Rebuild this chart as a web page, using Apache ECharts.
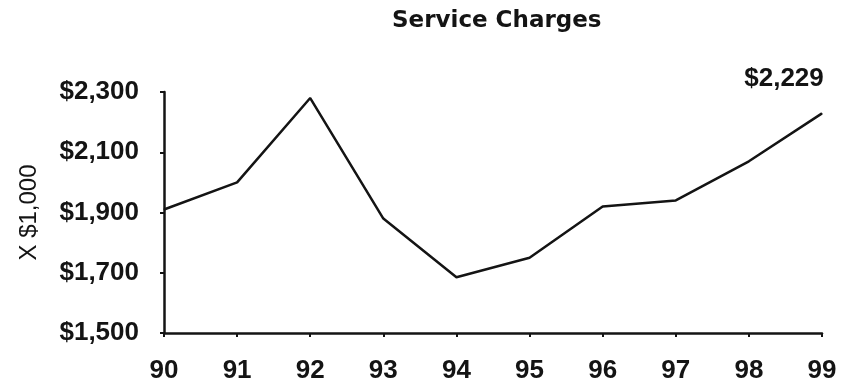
<!DOCTYPE html>
<html>
<head>
<meta charset="utf-8">
<script src="https://cdn.jsdelivr.net/npm/echarts@6/dist/echarts.min.js"></script>
<style>
  html, body { margin: 0; padding: 0; background: #ffffff; }
  #chart { width: 841px; height: 381px; }
</style>
</head>
<body>
<div id="chart"></div>
<script>
// Fiscal years shown on the category axis
const years = ['90', '91', '92', '93', '94', '95', '96', '97', '98', '99'];
// Service charges in thousands of dollars
const charges = [1910, 2000, 2280, 1880, 1685, 1750, 1920, 1940, 2070, 2229];
// Value axis range and step
const yMin = 1500;
const yMax = 2300;
const yStep = 200;

const money = v => '$' + Number(v).toLocaleString('en-US');
const ink = '#141414';
const boldFont = '"Liberation Sans", Arial, sans-serif';

const lastIdx = charges.length - 1;
const seriesData = charges.map((v, i) => i === lastIdx ? {
  value: v,
  label: {
    show: true,
    position: 'top',
    offset: [-38, -16],
    formatter: p => money(p.value),
    color: ink,
    fontFamily: boldFont,
    fontWeight: 'bold',
    fontSize: 26
  }
} : v);

const chart = echarts.init(document.getElementById('chart'), null, { renderer: 'canvas' });
chart.setOption({
  backgroundColor: '#ffffff',
  animation: false,
  title: {
    text: 'Service Charges',
    left: 387,
    top: 5,
    textStyle: {
      color: ink,
      fontFamily: '"DejaVu Sans", sans-serif',
      fontWeight: 'bold',
      fontSize: 23
    }
  },
  grid: { left: 164, right: 19, top: 92, bottom: 48, containLabel: false, outerBoundsMode: 'none' },
  xAxis: {
    type: 'category',
    data: years,
    boundaryGap: false,
    axisLine: { lineStyle: { color: ink, width: 2.5 } },
    axisTick: { show: true, alignWithLabel: true, length: 4, lineStyle: { color: ink, width: 2 } },
    axisLabel: {
      margin: 25,
      color: ink,
      fontFamily: boldFont,
      fontWeight: 'bold',
      fontSize: 26
    },
    splitLine: { show: false }
  },
  yAxis: {
    type: 'value',
    min: yMin,
    max: yMax,
    interval: yStep,
    name: 'X $1,000',
    nameLocation: 'middle',
    nameRotate: 90,
    nameGap: 123,
    nameTextStyle: {
      color: ink,
      fontFamily: '"Liberation Sans Narrow", "Liberation Sans", Arial, sans-serif',
      fontSize: 24
    },
    axisLine: { show: true, lineStyle: { color: ink, width: 2.5 } },
    axisTick: { show: true, length: 4, lineStyle: { color: ink, width: 2 } },
    axisLabel: {
      margin: 25,
      color: ink,
      fontFamily: boldFont,
      fontWeight: 'bold',
      fontSize: 26,
      formatter: money
    },
    splitLine: { show: false }
  },
  series: [{
    type: 'line',
    data: seriesData,
    symbol: 'circle',
    symbolSize: 1,
    showSymbol: true,
    itemStyle: { color: ink },
    lineStyle: { color: ink, width: 2.5 }
  }]
});
</script>
</body>
</html>
